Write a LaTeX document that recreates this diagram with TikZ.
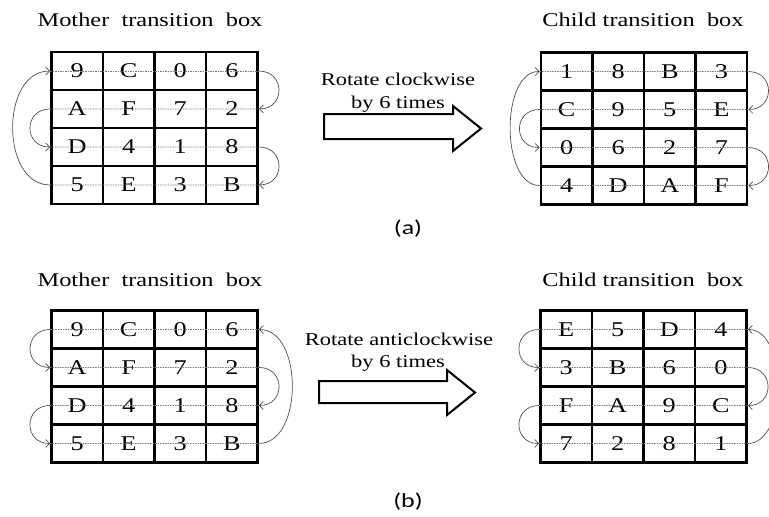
\documentclass[tikz,border=0pt]{standalone}
\usepackage{fontspec}
\setmainfont{Liberation Serif}[FakeStretch=1.25]
\newfontfamily\capfont{Carlito}[FakeStretch=1.3]
\usetikzlibrary{matrix}
\usetikzlibrary{arrows.meta}
\definecolor{rowgray}{HTML}{7A7A7A}
\definecolor{turngray}{HTML}{505050}

\begin{document}
\begin{tikzpicture}[x=1pt,y=-1pt]
    \useasboundingbox (0,0) rectangle (769,517);
    \tikzstyle{tcell}=[draw, line width=2.5pt, minimum width=51.6pt
    , minimum height=37.9pt, inner sep=0pt
    , font=\fontsize{21}{25}\selectfont]
    \tikzstyle{boxgrid}=[matrix of nodes, nodes={tcell}
    , column sep=-2.5pt, row sep=-2.5pt]
    \tikzstyle{rowline}=[draw=rowgray, line width=0.7pt
    , dash pattern=on 1.5pt off 1pt]
    \tikzstyle{rowturn}=[draw=turngray, line width=0.7pt
    , -{Straight Barb[length=4pt,width=8pt]}]
    \tikzstyle{blockarrow}=[draw, line width=2pt, line join=miter, fill=white]
    \tikzstyle{boxtitle}=[font=\fontsize{19.5}{23}\selectfont]
    \tikzstyle{rottext}=[anchor=base, font=\fontsize{18}{22}\selectfont]
    % Draw the boxes
    \matrix (motherA) [boxgrid] at (154.5,128) {
      9 & C & 0 & 6\\ A & F & 7 & 2\\ D & 4 & 1 & 8\\ 5 & E & 3 & B\\};
    \matrix (childA) [boxgrid] at (644,128.5) {
      1 & 8 & B & 3\\ C & 9 & 5 & E\\ 0 & 6 & 2 & 7\\ 4 & D & A & F\\};
    \matrix (motherB) [boxgrid] at (154.5,386.5) {
      9 & C & 0 & 6\\ A & F & 7 & 2\\ D & 4 & 1 & 8\\ 5 & E & 3 & B\\};
    \matrix (childB) [boxgrid] at (643.5,386.5) {
      E & 5 & D & 4\\ 3 & B & 6 & 0\\ F & A & 9 & C\\ 7 & 2 & 8 & 1\\};
    % Draw the row lines
    \foreach \m in {motherA,childA,motherB,childB}
      \foreach \r in {1,...,4}
        \draw[rowline] (\m-\r-1.west) -- (\m-\r-4.east);
    % Draw the turns, clockwise
    \draw[rowturn] (motherA-1-4.east) to[out=0,in=0,looseness=1.8] (motherA-2-4.east);
    \draw[rowturn] (motherA-3-4.east) to[out=0,in=0,looseness=1.8] (motherA-4-4.east);
    \draw[rowturn] (motherA-2-1.west) to[out=180,in=180,looseness=1.8] (motherA-3-1.west);
    \draw[rowturn] (motherA-4-1.west) to[out=180,in=180,looseness=1.12] (motherA-1-1.west);
    \draw[rowturn] (childA-1-4.east) to[out=0,in=0,looseness=1.8] (childA-2-4.east);
    \draw[rowturn] (childA-3-4.east) to[out=0,in=0,looseness=1.8] (childA-4-4.east);
    \draw[rowturn] (childA-2-1.west) to[out=180,in=180,looseness=1.8] (childA-3-1.west);
    \draw[rowturn] (childA-4-1.west) to[out=180,in=180,looseness=0.88] (childA-1-1.west);
    % Draw the turns, anticlockwise
    \draw[rowturn] (motherB-1-1.west) to[out=180,in=180,looseness=1.8] (motherB-2-1.west);
    \draw[rowturn] (motherB-3-1.west) to[out=180,in=180,looseness=1.8] (motherB-4-1.west);
    \draw[rowturn] (motherB-2-4.east) to[out=0,in=0,looseness=1.8] (motherB-3-4.east);
    \draw[rowturn] (motherB-4-4.east) to[out=0,in=0,looseness=1.0] (motherB-1-4.east);
    \draw[rowturn] (childB-1-1.west) to[out=180,in=180,looseness=1.8] (childB-2-1.west);
    \draw[rowturn] (childB-3-1.west) to[out=180,in=180,looseness=1.8] (childB-4-1.west);
    \draw[rowturn] (childB-2-4.east) to[out=0,in=0,looseness=1.8] (childB-3-4.east);
    \draw[rowturn] (childB-4-4.east) to[out=0,in=0,looseness=0.9] (childB-1-4.east);
    % Block arrows
    \draw[blockarrow] (324,114) -- (453,114) -- (453,106) -- (481,128.5)
      -- (453,151) -- (453,139) -- (324,139) -- cycle;
    \draw[blockarrow] (319,381) -- (447,381) -- (447,370) -- (475,392.5)
      -- (447,415) -- (447,403) -- (319,403) -- cycle;
    % Labels
    \node[boxtitle] (motherAtitle) at (150,20) {Mother\ \ transition\ \ box};
    \node[boxtitle] (childAtitle) at (643,20) {Child transition\ \ box};
    \node[boxtitle] (motherBtitle) at (150,280) {Mother\ \ transition\ \ box};
    \node[boxtitle] (childBtitle) at (643,280) {Child transition\ \ box};
    \node[rottext] (rotA) at (398,85) {Rotate clockwise};
    \node[rottext] (timesA) at (398,108) {by 6 times};
    \node[rottext] (rotB) at (399,345) {Rotate anticlockwise};
    \node[rottext] (timesB) at (398,367) {by 6 times};
    \node[font=\capfont\fontsize{20}{24}\selectfont] (capA) at (408,229) {(a)};
    \node[font=\capfont\fontsize{20}{24}\selectfont] (capB) at (408,502) {(b)};
  \end{tikzpicture}
\end{document}
